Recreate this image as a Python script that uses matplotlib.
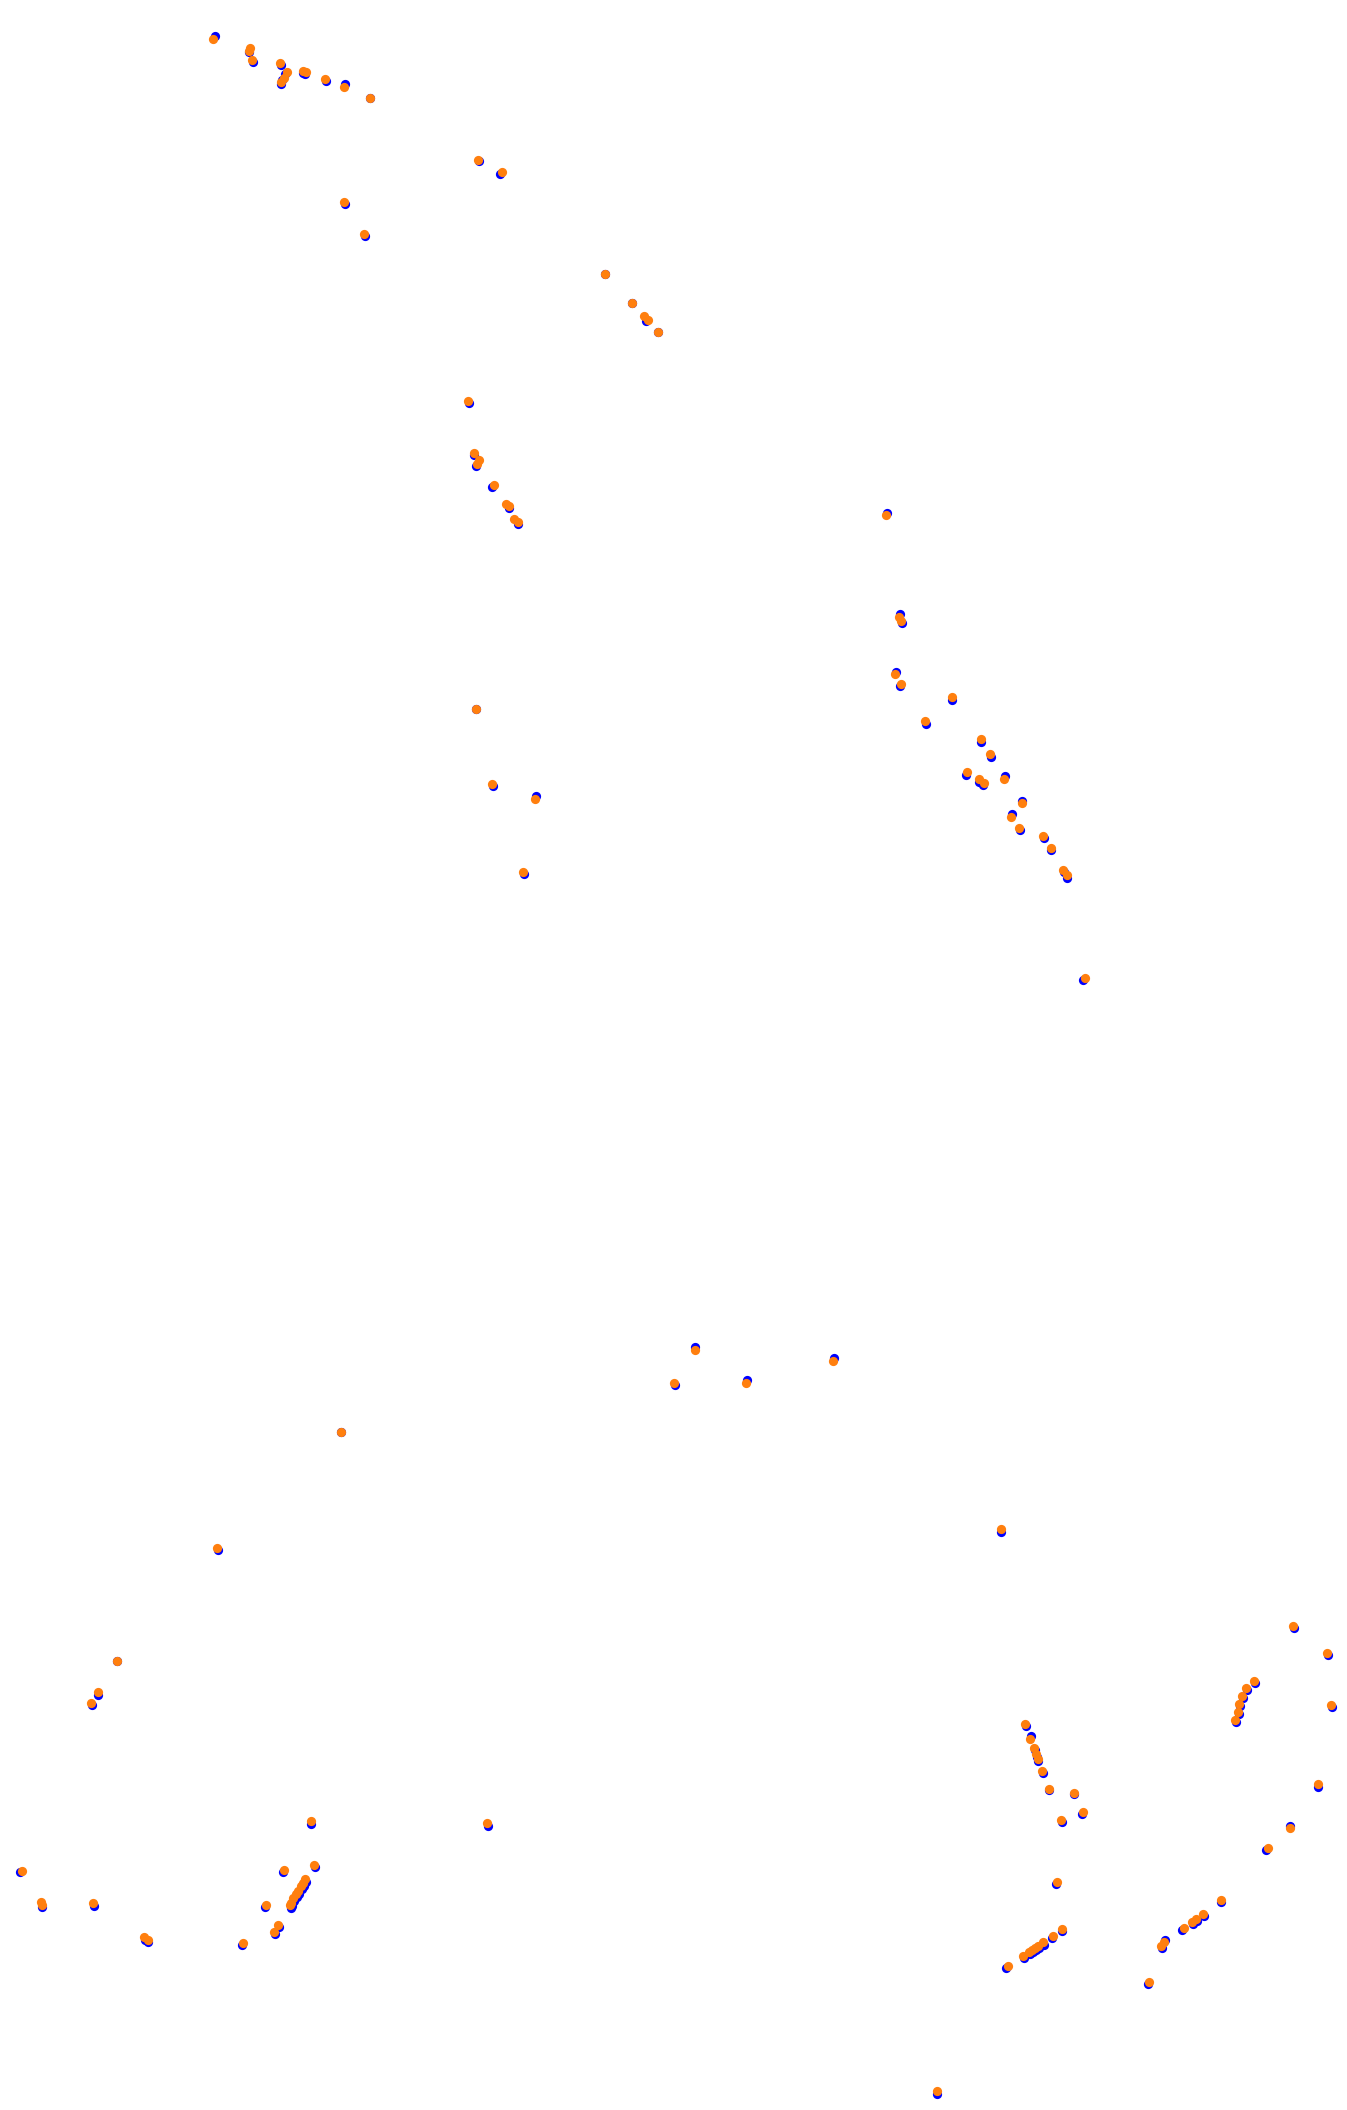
import matplotlib
matplotlib.use("Agg")
import matplotlib.pyplot as plt

# Series 1 (blue) positions: x, y
blue_x = [214.5, 249, 253, 281, 285, 282, 280.5, 303, 305, 325.5, 345, 370,
          479.3, 500.3, 345, 365, 604.7, 631.7, 645.7, 657.7,
          469, 474, 475.7, 492.3, 509.3, 518.3,
          887.3, 900, 902, 896.3, 899.7,
          952, 926, 980.7, 990.7, 965.7, 979.3, 983, 1005,
          1022, 1012, 1020, 1044, 1050.7, 1064, 1066.7, 1083.3,
          475.7, 493, 536, 524,
          695, 675, 747, 834, 1000.7,
          340.5, 217.5,
          116.7, 98.3, 92, 310.7, 20.3, 314.7, 283, 41.7, 94,
          305.5, 303.5, 302, 299.3, 297, 294, 292, 290.7,
          264.7, 279, 274.5, 242, 148, 144.5, 487.8,
          1026, 1031, 1034.5, 1036.5, 1038, 1042.7, 1048.7, 1074, 1081.7, 1061.7,
          1290, 1266.3, 1055.7, 1220.7, 1203.5, 1196.8, 1192.7, 1182.3,
          1164.7, 1162, 1147.7, 1061.7, 1051.7, 1043.5, 1039, 1035.5, 1033, 1029.5, 1024, 1006.3,
          1293.8, 1327.5, 1254.8, 1246.8, 1243, 1240.2, 1238.8, 1236.2, 1331.5, 1318, 936.6]
blue_y = [36, 52, 62, 65, 74, 80, 84, 73, 74, 81, 84, 98,
          161.3, 174.3, 204.3, 236.3, 274, 303, 320.7, 332,
          403.3, 455.3, 466, 487, 508.3, 524,
          512.7, 614, 623.3, 672, 686,
          700, 723.7, 742, 756.7, 774.7, 782, 785, 776.3,
          800.7, 814, 829.7, 838.3, 850.3, 872, 878.3, 980.3,
          709, 786.3, 796.3, 874.3,
          1347.3, 1385.3, 1380.3, 1358.3, 1532,
          1432, 1550,
          1661, 1695, 1705.3, 1823.7, 1872.3, 1867.3, 1872.3, 1907.3, 1906,
          1881.5, 1885.5, 1889, 1893.5, 1896.8, 1901, 1905.5, 1907.8,
          1907, 1927.3, 1934, 1945, 1942.3, 1940, 1826,
          1726, 1736, 1750, 1756.5, 1761, 1773, 1789.5, 1793.5, 1814, 1822.3,
          1826, 1850.3, 1884.3, 1902.3, 1915.8, 1921.2, 1923.7, 1930.3,
          1940, 1948, 1984.3, 1931.3, 1938, 1944.5, 1948, 1950.3, 1952.3, 1954, 1958, 1968,
          1627.6, 1654.5, 1683, 1689.7, 1697.8, 1706, 1714, 1722, 1707, 1786.5, 2093.5]

# Series 2 (orange) positions: x, y
orange_x = [212.7, 250, 248.5, 252, 279.7, 286.7, 283.7, 281, 302.7, 305.7, 325, 343.7, 369.7,
            478, 502, 344, 364, 604.7, 631.7, 643.7, 648, 657.7,
            468, 473.7, 479, 476.7, 493.7, 505.7, 508.7, 513.7, 518,
            885.7, 899, 901, 895, 900.7,
            951.7, 924.7, 980.7, 989.7, 966.7, 978.7, 984, 1003.7,
            1021.7, 1011, 1018.7, 1043, 1050.7, 1063, 1066.7, 1084.7,
            475.7, 491.7, 534.7, 522.7,
            695, 673.7, 745.7, 832.7, 1000.7,
            340.5, 216.7,
            116.7, 97.7, 90.7, 310.7, 21.7, 313.7, 283.7, 40.7, 42.3, 93,
            304.7, 302.7, 301, 298.3, 296, 293, 291, 289.7,
            265.7, 277.7, 273.7, 243, 143.7, 147.7, 487.1,
            1025, 1030, 1033.7, 1035.7, 1037.7, 1042, 1048.7, 1074, 1083, 1060.7,
            1290, 1267.7, 1057, 1220.7, 1202.7, 1196, 1192.3, 1183.7,
            1164.3, 1161.3, 1148.7, 1061.7, 1052.7, 1042.7, 1038.3, 1034.7, 1032.3, 1028.7, 1022.7, 1007.7,
            1293.2, 1326.9, 1254.2, 1246.1, 1242.1, 1239.4, 1238, 1235.4, 1330.9, 1317.5, 936.6]
orange_y = [39, 48, 51, 60, 62.7, 72, 78.3, 82, 71, 72, 79, 87, 98,
            160, 171.7, 201.7, 234, 273.7, 302.7, 316, 320, 331.7,
            400.7, 452.7, 460.3, 464, 484.7, 503.7, 506, 518.7, 521.7,
            514.7, 616.7, 621, 674.3, 683.7,
            697.3, 721, 739, 754, 772, 778.7, 783, 779,
            803.3, 817, 827.7, 835.7, 848, 869.7, 875.3, 977.7,
            708.7, 783.7, 798.7, 871.7,
            1350, 1382.7, 1382.7, 1361, 1529.3,
            1431.8, 1547.6,
            1661, 1692, 1702.7, 1821, 1870.7, 1864.7, 1869.7, 1901.7, 1904.7, 1903.3,
            1878.7, 1882.7, 1886.3, 1890.7, 1894, 1898.3, 1902.7, 1905,
            1904.7, 1925, 1931.7, 1942.7, 1937.3, 1939.7, 1823.4,
            1724, 1739.3, 1747.7, 1754.3, 1759.3, 1770.7, 1788.7, 1793, 1812, 1820,
            1828.3, 1847.7, 1882, 1899.7, 1913.7, 1919, 1921.7, 1928,
            1942, 1945.7, 1982, 1929, 1936, 1942.3, 1945.7, 1948, 1950, 1951.7, 1955.7, 1965.7,
            1625.6, 1652.5, 1680.8, 1687.5, 1695.6, 1703.7, 1711.7, 1719.8, 1705, 1784.4, 2091.2]

fig = plt.figure(figsize=(13.47, 21.10), dpi=100)
ax = fig.add_axes([0, 0, 1, 1])
ax.scatter(blue_x, blue_y, s=44, color="#0000ff", linewidths=0, zorder=2)
ax.scatter(orange_x, orange_y, s=44, color="#ff7f0e", linewidths=0, zorder=3)
ax.set_xlim(0, 1347)
ax.set_ylim(2110, 0)
ax.axis("off")
fig.savefig("out.png", dpi=100, facecolor="white")
